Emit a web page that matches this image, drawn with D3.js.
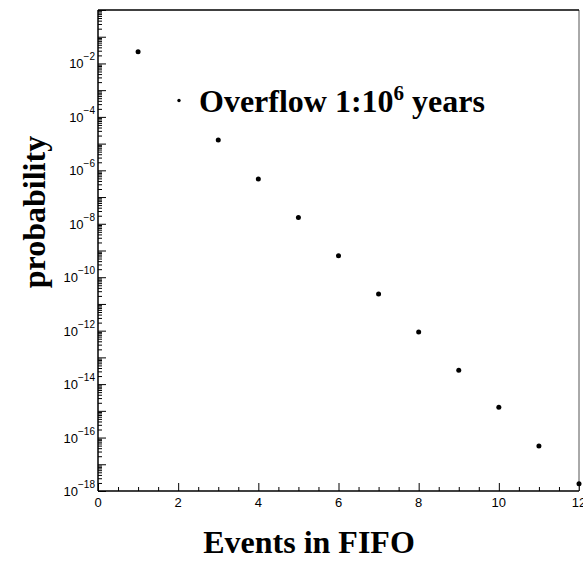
<!DOCTYPE html>
<html>
<head>
<meta charset="utf-8">
<script src="https://cdn.jsdelivr.net/npm/d3@7"></script>
<style>
  body { margin: 0; background: #fff; }
</style>
</head>
<body>
<svg id="chart" width="583" height="563"></svg>
<script>
// data
const events = [1, 3, 4, 5, 6, 7, 8, 9, 10, 11, 12];
const probability = [2.75e-2, 1.36e-5, 4.7e-7, 1.7e-8, 6.4e-10, 2.36e-11, 8.9e-13, 3.3e-14, 1.36e-15, 4.8e-17, 1.87e-18];
const xTicks = [0, 2, 4, 6, 8, 10, 12];
const yLabelExps = [-2, -4, -6, -8, -10, -12, -14, -16, -18];

const svg = d3.select('#chart');
const margin = { top: 10, left: 98 };
const width = 481, height = 481;

const g = svg.append('g').attr('transform', 'translate(' + margin.left + ',' + margin.top + ')');

const x = d3.scaleLinear().domain([0, 12]).range([0, width]);
const y = d3.scaleLog().domain([1e-18, 1]).range([height, 0]);

// y ticks: majors every decade, minors 2..9
const yMajors = d3.range(-18, 1).map(function(k) { return Math.pow(10, k); });
const yMinors = [];
d3.range(-18, 0).forEach(function(k) {
  for (let m = 2; m <= 9; m++) yMinors.push(m * Math.pow(10, k));
});

const xMinors = d3.range(0, 12.01, 0.5).filter(function(v) { return v % 2 !== 0; });

// minor ticks (inside)
g.append('g')
  .call(d3.axisRight(y).tickValues(yMinors).tickSize(4).tickFormat(''))
  .call(function(a) { a.select('.domain').remove(); })
  .selectAll('line').attr('stroke', '#000');

g.append('g')
  .attr('transform', 'translate(0,' + height + ')')
  .call(d3.axisTop(x).tickValues(xMinors).tickSize(4).tickFormat(''))
  .call(function(a) { a.select('.domain').remove(); })
  .selectAll('line').attr('stroke', '#000');

// major ticks
const yAxis = g.append('g')
  .call(d3.axisRight(y).tickValues(yMajors).tickSize(8).tickFormat(''))
  .call(function(a) { a.select('.domain').remove(); });
yAxis.selectAll('line').attr('stroke', '#000');

const xAxis = g.append('g')
  .attr('transform', 'translate(0,' + height + ')')
  .call(d3.axisTop(x).tickValues(xTicks).tickSize(8).tickFormat(''))
  .call(function(a) { a.select('.domain').remove(); });
xAxis.selectAll('line').attr('stroke', '#000');

// frame
g.append('line').attr('x1', width).attr('x2', width).attr('y1', 0).attr('y2', height)
  .attr('stroke', '#555').attr('stroke-width', 1);
g.append('line').attr('x1', 0).attr('x2', width).attr('y1', 0).attr('y2', 0)
  .attr('stroke', '#000').attr('stroke-width', 1.5);
g.append('line').attr('x1', 0).attr('x2', 0).attr('y1', 0).attr('y2', height)
  .attr('stroke', '#000').attr('stroke-width', 1.5);
g.append('line').attr('x1', 0).attr('x2', width).attr('y1', height).attr('y2', height)
  .attr('stroke', '#000').attr('stroke-width', 1.5);

// x tick labels
g.selectAll('.xlab')
  .data(xTicks)
  .enter()
  .append('text')
  .attr('x', function(d) { return x(d); })
  .attr('y', height + 16)
  .attr('text-anchor', 'middle')
  .attr('font-family', 'Liberation Sans, Arial, sans-serif')
  .attr('font-size', 13)
  .text(function(d) { return d; });

// y tick labels 10^k
const ylab = g.selectAll('.ylab')
  .data(yLabelExps)
  .enter()
  .append('text')
  .attr('x', -3)
  .attr('y', function(d) { return y(Math.pow(10, d)) + 5; })
  .attr('text-anchor', 'end')
  .attr('font-family', 'Liberation Sans, Arial, sans-serif')
  .attr('font-size', 13);
ylab.append('tspan').text('10');
ylab.append('tspan')
  .attr('dy', -8)
  .attr('font-size', 10)
  .text(function(d) { return '\u2212' + Math.abs(d); });

// points
g.selectAll('circle.pt')
  .data(events)
  .enter()
  .append('circle')
  .attr('class', 'pt')
  .attr('cx', function(d) { return x(d); })
  .attr('cy', function(d, i) { return y(probability[i]); })
  .attr('r', 2.5)
  .attr('fill', '#000');

// legend
svg.append('circle').attr('cx', 179).attr('cy', 100.5).attr('r', 1.7).attr('fill', '#000');
const leg = svg.append('text')
  .attr('x', 199)
  .attr('y', 112)
  .attr('font-family', 'Liberation Serif, Times New Roman, serif')
  .attr('font-weight', 'bold')
  .attr('font-size', 32);
leg.append('tspan').text('Overflow 1:10');
leg.append('tspan').attr('dy', -12).attr('font-size', 21).text('6');
leg.append('tspan').attr('dy', 12).text(' years');

// axis titles
svg.append('text')
  .attr('x', 309)
  .attr('y', 553)
  .attr('text-anchor', 'middle')
  .attr('font-family', 'Liberation Serif, Times New Roman, serif')
  .attr('font-weight', 'bold')
  .attr('font-size', 32)
  .text('Events in FIFO');

svg.append('text')
  .attr('transform', 'translate(45,212) rotate(-90)')
  .attr('text-anchor', 'middle')
  .attr('font-family', 'Liberation Serif, Times New Roman, serif')
  .attr('font-weight', 'bold')
  .attr('font-size', 32)
  .text('probability');
</script>
</body>
</html>
